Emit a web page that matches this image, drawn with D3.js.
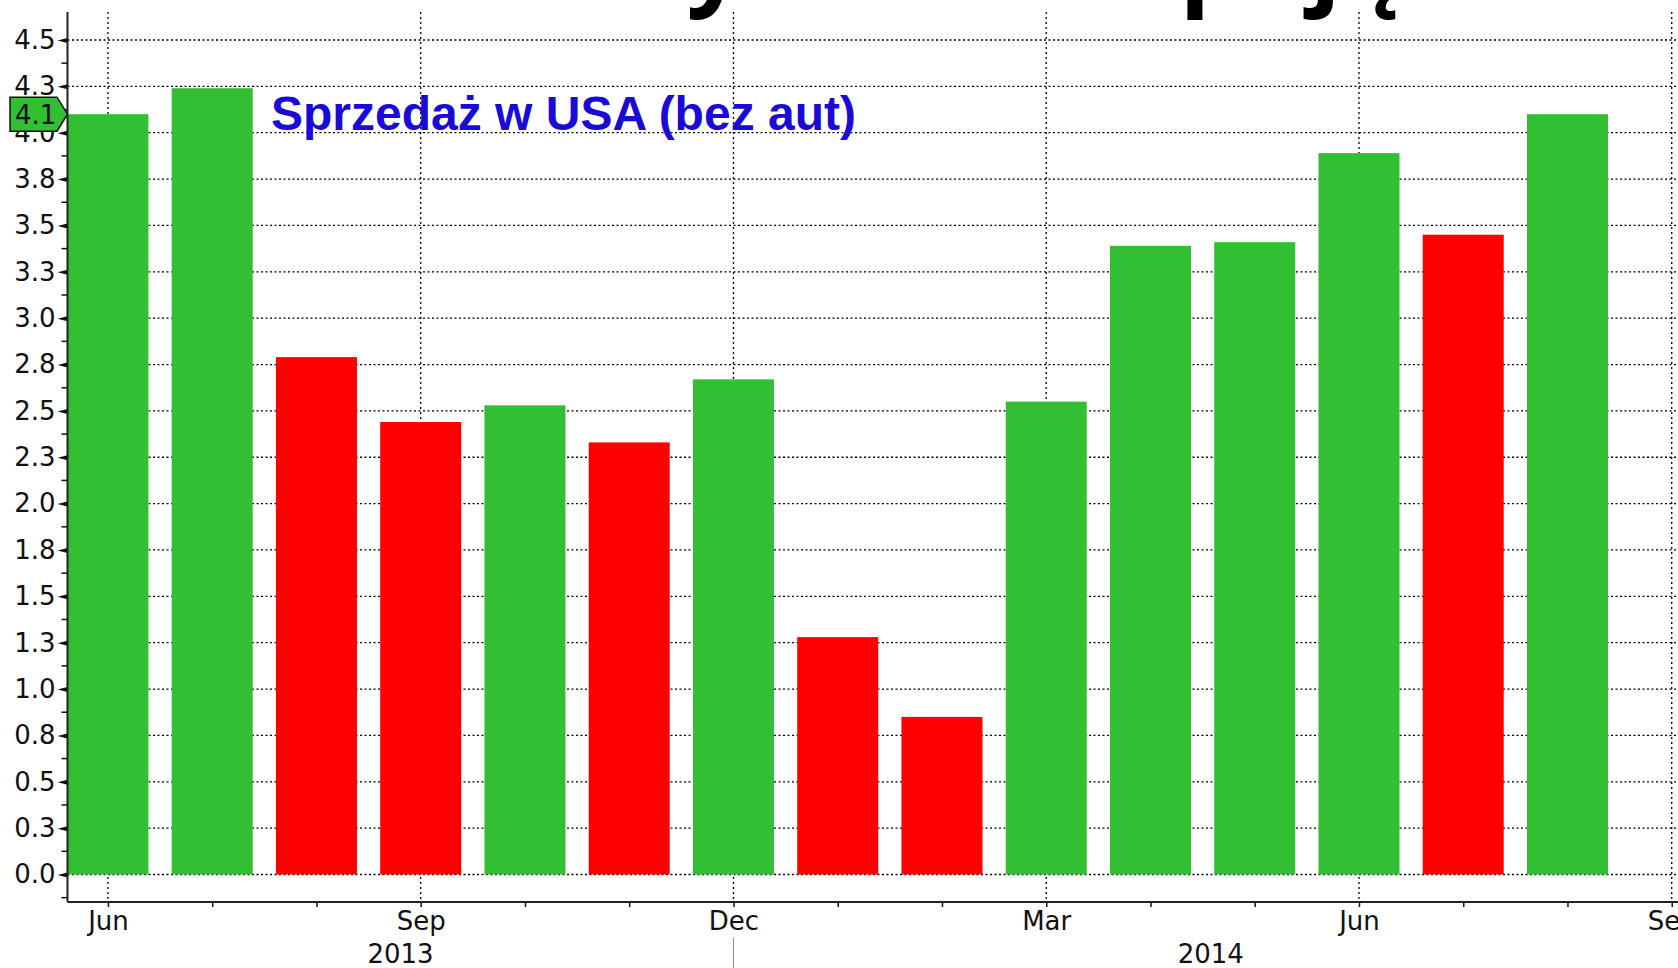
<!DOCTYPE html>
<html>
<head>
<meta charset="utf-8">
<script src="https://cdn.jsdelivr.net/npm/d3@7"></script>
<style>
  body { margin: 0; background: #fff; }
  svg { display: block; }
  .tick-label { font-family: "DejaVu Sans", sans-serif; font-size: 26px; fill: #111; }
</style>
</head>
<body>
<div class="canvas"></div>
<script>
// data (monthly, Jun 2013 .. Aug 2014)
const months = ["Jun", "Jul", "Aug", "Sep", "Oct", "Nov", "Dec", "Jan", "Feb", "Mar", "Apr", "May", "Jun", "Jul", "Aug"];
const years = [2013, 2013, 2013, 2013, 2013, 2013, 2013, 2014, 2014, 2014, 2014, 2014, 2014, 2014, 2014];
const values = [4.10, 4.24, 2.79, 2.44, 2.53, 2.33, 2.67, 1.28, 0.85, 2.55, 3.39, 3.41, 3.89, 3.45, 4.10];

const yTicks = d3.range(0, 4.51, 0.25);
const quarterIdx = [0, 3, 6, 9, 12, 15];
const quarterLabels = ["Jun", "Sep", "Dec", "Mar", "Jun", "Sep"];
const yearLabels = ["2013", "2014"];
const lastLabel = "4.1";
const title = "Sprzedaż w USA (bez aut)";
const slideTitle = "Amerykanie kupują";

const dims = { w: 1678, h: 968 };
const plot = { left: 67.5, right: 1688, top: 12, bottom: 902 };

const svg = d3
  .select(".canvas")
  .append("svg")
  .attr("width", dims.w)
  .attr("height", dims.h);

// month index -> px, equal spacing per month
const x = d3.scaleLinear().domain([-0.388, 15.156]).range([plot.left, plot.right]);
const y = d3.scaleLinear().domain([-0.1483, 4.651]).range([plot.bottom, plot.top]);
const barW = x(0.777) - x(0);

const green = "#33bf33";
const red = "#ff0000";
const colour = (d, i) => (i === 0 || d >= values[i - 1] ? green : red);

// slide title, cut off at top of picture
svg
  .append("text")
  .attr("x", 412)
  .attr("y", -4)
  .attr("font-family", "Open Sans, sans-serif")
  .attr("font-weight", 700)
  .attr("font-size", 101)
  .attr("fill", "#000")
  .text(slideTitle);

// grid
const grid = svg.append("g");
grid
  .selectAll("line.h")
  .data(yTicks)
  .enter()
  .append("line")
  .attr("x1", plot.left)
  .attr("x2", plot.right)
  .attr("y1", d => y(d))
  .attr("y2", d => y(d))
  .attr("stroke", "#000")
  .attr("stroke-width", 1.3)
  .attr("stroke-dasharray", "2,2.5");
grid
  .selectAll("line.v")
  .data(quarterIdx)
  .enter()
  .append("line")
  .attr("x1", d => x(d))
  .attr("x2", d => x(d))
  .attr("y1", plot.top)
  .attr("y2", plot.bottom)
  .attr("stroke", "#000")
  .attr("stroke-width", 1.3)
  .attr("stroke-dasharray", "2,3");

// bars
svg
  .append("g")
  .selectAll("rect")
  .data(values)
  .enter()
  .append("rect")
  .attr("x", (d, i) => x(i) - barW / 2)
  .attr("y", d => y(d))
  .attr("width", barW)
  .attr("height", d => y(0) - y(d))
  .attr("fill", colour);

// y axis
const yAxis = svg
  .append("g")
  .attr("transform", `translate(${plot.left},0)`)
  .call(
    d3.axisLeft(y)
      .tickValues(yTicks)
      .tickFormat(d3.format(".1f"))
      .tickSize(0)
      .tickPadding(12)
  );
yAxis.select(".domain").remove();
yAxis.selectAll("text").attr("class", "tick-label").attr("font-size", null).attr("font-family", null);
yAxis
  .selectAll(".tick")
  .append("path")
  .attr("d", "M0,-2.5L-10,0L0,2.5Z")
  .attr("fill", "#111");
yAxis
  .selectAll("line.minor")
  .data(d3.range(-0.125, 4.6, 0.25))
  .enter()
  .append("line")
  .attr("x1", -6)
  .attr("x2", 0)
  .attr("y1", d => y(d))
  .attr("y2", d => y(d))
  .attr("stroke", "#111")
  .attr("stroke-width", 1.5);
yAxis
  .append("line")
  .attr("y1", plot.top)
  .attr("y2", plot.bottom)
  .attr("stroke", "#222")
  .attr("stroke-width", 2);

// x axis
const xAxis = svg
  .append("g")
  .attr("transform", `translate(0,${plot.bottom})`)
  .call(
    d3.axisBottom(x)
      .tickValues(d3.range(0, 16))
      .tickSize(5)
      .tickFormat(i => {
        const k = quarterIdx.indexOf(i);
        return k < 0 ? "" : quarterLabels[k];
      })
  );
xAxis.select(".domain").remove();
xAxis.selectAll(".tick line").attr("stroke", "#111").attr("stroke-width", 1.5);
xAxis
  .selectAll("text")
  .attr("class", "tick-label")
  .attr("font-size", null)
  .attr("font-family", null)
  .attr("y", 10);
xAxis
  .append("line")
  .attr("x1", plot.left)
  .attr("x2", plot.right)
  .attr("stroke", "#222")
  .attr("stroke-width", 2);

// year labels + separator at year change
const yearSplit = x(years.indexOf(2014) - 1);
const yearCentres = [(plot.left + yearSplit) / 2, (yearSplit + plot.right) / 2];
svg
  .append("g")
  .selectAll("text")
  .data(yearLabels)
  .enter()
  .append("text")
  .attr("class", "tick-label")
  .attr("x", (d, i) => yearCentres[i])
  .attr("y", 963)
  .attr("text-anchor", "middle")
  .attr("font-size", 27)
  .text(d => d);
svg
  .append("line")
  .attr("x1", yearSplit)
  .attr("x2", yearSplit)
  .attr("y1", 938)
  .attr("y2", dims.h)
  .attr("stroke", "#888")
  .attr("stroke-width", 1);

// last value badge
const last = values[values.length - 1];
const by = y(last);
svg
  .append("path")
  .attr("d", `M10,${by - 17}H57L${plot.left},${by}L57,${by + 17}H10Z`)
  .attr("fill", green)
  .attr("stroke", "#111")
  .attr("stroke-width", 1.5);
svg
  .append("text")
  .attr("class", "tick-label")
  .attr("x", 15)
  .attr("y", by + 10)
  .text(lastLabel);

// series title
svg
  .append("text")
  .attr("x", 271)
  .attr("y", 130)
  .attr("font-family", "Liberation Sans, Arial, sans-serif")
  .attr("font-weight", 700)
  .attr("font-size", 48)
  .attr("fill", "#1a0ad6")
  .text(title);
</script>
</body>
</html>
